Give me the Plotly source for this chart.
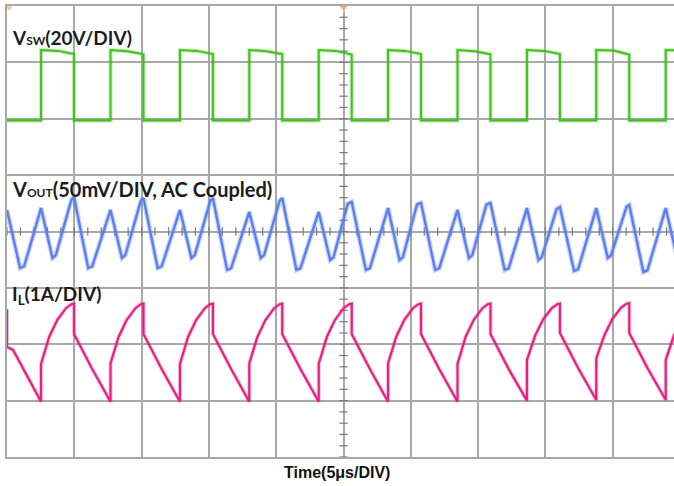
import numpy as np
import plotly.graph_objects as go

# ---------------- data ----------------
# time in microseconds, 5 us / division
vsw_t = [0.00, 2.53, 2.53, 3.80, 4.98, 4.98, 7.69, 7.69, 8.96, 10.14, 10.14,
         12.85, 12.85, 14.12, 15.30, 15.30, 18.00, 18.00, 19.27, 20.45, 20.45,
         23.16, 23.16, 24.43, 25.61, 25.61, 28.31, 28.31, 29.58, 30.76, 30.76,
         33.47, 33.47, 34.74, 35.92, 35.92, 38.63, 38.63, 39.90, 41.08, 41.08,
         43.78, 43.78, 45.05, 46.23, 46.23, 48.94, 48.94, 49.60]
vsw_v = [0.0, 0.0, 25.0, 24.7, 23.6, 0.0, 0.0, 25.0, 24.6, 23.5, 0.0,
         0.0, 25.0, 24.7, 23.6, 0.0, 0.0, 25.0, 24.6, 23.6, 0.0,
         0.0, 25.0, 24.7, 23.4, 0.0, 0.0, 25.0, 24.7, 23.6, 0.0,
         0.0, 25.0, 24.6, 23.5, 0.0, 0.0, 25.0, 24.7, 23.6, 0.0,
         0.0, 25.0, 24.8, 23.4, 0.0, 0.0, 25.0, 24.9]

vout_t = [0.00, 0.97, 1.27,
          2.53, 3.38, 3.63, 4.78, 4.98, 6.03, 6.33,
          7.69, 8.54, 8.79, 9.94, 10.14, 11.19, 11.49,
          12.85, 13.70, 13.95, 15.10, 15.30, 16.35, 16.65,
          18.00, 18.85, 19.10, 20.25, 20.45, 21.50, 21.80,
          23.16, 24.01, 24.26, 25.31, 25.61, 26.66, 26.96,
          28.31, 29.16, 29.41, 30.46, 30.76, 31.81, 32.11,
          33.47, 34.32, 34.57, 35.62, 35.92, 36.97, 37.27,
          38.63, 39.48, 39.73, 40.83, 41.08, 42.13, 42.43,
          43.78, 44.63, 44.88, 46.03, 46.23, 47.28, 47.58,
          48.94, 49.79]
vout_mv = [19.0, -32.4, -31.0,
           20.8, -23.5, -21.0, 28.0, 30.6, -32.4, -31.0,
           19.1, -23.5, -21.0, 27.2, 29.7, -32.4, -31.0,
           19.1, -23.5, -21.0, 27.2, 29.7, -34.1, -32.6,
           17.3, -23.5, -21.0, 27.2, 29.7, -34.1, -32.6,
           17.3, -25.3, -22.8, 24.5, 26.2, -34.1, -32.6,
           20.8, -25.3, -22.8, 24.0, 25.3, -34.1, -32.6,
           19.1, -23.5, -21.0, 24.0, 25.3, -34.1, -32.6,
           20.8, -25.3, -22.8, 20.0, 21.7, -35.0, -33.5,
           20.8, -23.5, -21.0, 22.0, 23.5, -35.9, -34.4,
           20.8, -23.5]

il_t = [0.00, 0.00, 0.45,
        2.53, 2.53, 3.13, 3.73, 4.38, 4.78, 4.98, 4.98, 6.33,
        7.69, 7.69, 8.29, 8.89, 9.54, 9.94, 10.14, 10.14, 11.49,
        12.85, 12.85, 13.45, 14.05, 14.70, 15.10, 15.30, 15.30, 16.65,
        18.00, 18.00, 18.60, 19.20, 19.85, 20.25, 20.45, 20.45, 21.80,
        23.16, 23.16, 23.76, 24.36, 25.01, 25.41, 25.61, 25.61, 26.96,
        28.31, 28.31, 28.91, 29.51, 30.16, 30.56, 30.76, 30.76, 32.11,
        33.47, 33.47, 34.07, 34.67, 35.32, 35.72, 35.92, 35.92, 37.27,
        38.63, 38.63, 39.23, 39.83, 40.48, 40.88, 41.08, 41.08, 42.43,
        43.78, 43.78, 44.38, 44.98, 45.63, 46.03, 46.23, 46.23, 47.58,
        48.94, 48.94, 49.54, 50.14]
il_a = [2.62, 1.95, 1.90,
        0.98, 1.65, 2.13, 2.43, 2.64, 2.71, 2.72, 2.18, 1.56,
        0.98, 1.66, 2.13, 2.43, 2.64, 2.71, 2.72, 2.18, 1.56,
        0.98, 1.65, 2.13, 2.43, 2.64, 2.71, 2.72, 2.18, 1.56,
        0.98, 1.66, 2.13, 2.43, 2.64, 2.71, 2.72, 2.18, 1.56,
        0.98, 1.65, 2.13, 2.43, 2.64, 2.71, 2.72, 2.18, 1.56,
        0.98, 1.66, 2.13, 2.43, 2.64, 2.71, 2.72, 2.18, 1.56,
        0.98, 1.65, 2.13, 2.43, 2.64, 2.71, 2.72, 2.18, 1.56,
        1.00, 1.72, 2.15, 2.44, 2.64, 2.71, 2.72, 2.20, 1.58,
        1.01, 1.75, 2.16, 2.45, 2.65, 2.72, 2.73, 2.20, 1.58,
        1.01, 1.72, 2.15, 2.44]

labels = ["V<span style='font-size:12px'>SW</span>(20V/DIV)",
          "V<span style='font-size:12px'>OUT</span>(50mV/DIV, AC Coupled)",
          "I<sub>L</sub>(1A/DIV)"]
x_title = "Time(5μs/DIV)"

# ---------------- screen settings ----------------
W, H = 674, 486
ML, MR, MT, MB = 7, 0, 6, 29
DIV_US = 5.0
X_END = (W - ML - MR) / 67.3 * DIV_US   # visible time span (right side cut off)

GRID = "#a8a8a8"
C_SW, C_OUT, C_IL = "#41c21d", "#5b7ff0", "#e8207f"

fig = go.Figure()

# center crosshair minor ticks (0.2 div)
hx = np.arange(0, X_END, DIV_US * 0.2)
fig.add_trace(go.Scatter(x=hx, y=[4] * len(hx), mode="markers",
                         marker=dict(symbol="line-ns", size=6,
                                     line=dict(color="#7a7a7a", width=1.2)),
                         hoverinfo="skip", showlegend=False))
vy = np.arange(0, 8.01, 0.2)
fig.add_trace(go.Scatter(x=[25.0] * len(vy), y=vy, mode="markers",
                         marker=dict(symbol="line-ew", size=6,
                                     line=dict(color="#7a7a7a", width=1.2)),
                         hoverinfo="skip", showlegend=False))

# faint halo under each trace to mimic the scope's noisy trace thickness
fig.add_trace(go.Scatter(x=vsw_t, y=vsw_v, mode="lines", yaxis="y2",
                         line=dict(color=C_SW, width=4), opacity=0.3,
                         hoverinfo="skip", showlegend=False))
fig.add_trace(go.Scatter(x=vsw_t, y=vsw_v, mode="lines", yaxis="y2",
                         line=dict(color=C_SW, width=2.0), showlegend=False))
fig.add_trace(go.Scatter(x=vout_t, y=vout_mv, mode="lines", yaxis="y3",
                         line=dict(color=C_OUT, width=5), opacity=0.3,
                         hoverinfo="skip", showlegend=False))
fig.add_trace(go.Scatter(x=vout_t, y=vout_mv, mode="lines", yaxis="y3",
                         line=dict(color=C_OUT, width=2.4), showlegend=False))
fig.add_trace(go.Scatter(x=il_t, y=il_a, mode="lines", yaxis="y4",
                         line=dict(color=C_IL, width=4), opacity=0.25,
                         hoverinfo="skip", showlegend=False))
fig.add_trace(go.Scatter(x=il_t, y=il_a, mode="lines", yaxis="y4",
                         line=dict(color=C_IL, width=2.2), showlegend=False))

# trigger markers
fig.add_trace(go.Scatter(x=[25.0, 0.15], y=[7.97, 7.97], mode="markers",
                         marker=dict(symbol="triangle-down", size=[8, 7],
                                     color="#f2a65a"),
                         cliponaxis=False, hoverinfo="skip", showlegend=False))

sw_zero = (457 - 120.5) / 56.375  # division where 0 V sits
fig.update_layout(
    width=W, height=H,
    margin=dict(l=ML, r=MR, t=MT, b=MB),
    paper_bgcolor="white", plot_bgcolor="white",
    xaxis=dict(range=[0, X_END], dtick=DIV_US, tick0=0, showgrid=True,
               gridcolor=GRID, gridwidth=1.6, showticklabels=False,
               zeroline=False, showline=True, linecolor=GRID, linewidth=1.6,
               mirror=True, ticks=""),
    yaxis=dict(range=[0, 8], dtick=1, tick0=0, showgrid=True,
               gridcolor=GRID, gridwidth=1.6, showticklabels=False,
               zeroline=False, showline=True, linecolor=GRID, linewidth=1.6,
               mirror=False, ticks=""),
    yaxis2=dict(range=[-sw_zero * 20, (8 - sw_zero) * 20], overlaying="y",
                visible=False),
    yaxis3=dict(range=[-200, 200], overlaying="y", visible=False),
    yaxis4=dict(range=[0, 8], overlaying="y", visible=False),
)

for txt, yd, fs in zip(labels, [7.45, 4.75, 2.87], [19, 20, 19]):
    fig.add_annotation(x=0.2, y=yd, xref="x", yref="y", text="<b>" + txt + "</b>",
                       showarrow=False, xanchor="left", yanchor="middle",
                       font=dict(family="Lato", size=fs, color="#1c1c1c"))

fig.add_annotation(x=0.495, y=-0.035, xref="paper", yref="paper",
                   text="<b>" + x_title + "</b>", showarrow=False,
                   xanchor="center", yanchor="middle",
                   font=dict(family="Liberation Sans", size=16, color="#111111"))

fig.write_html("out.html")
